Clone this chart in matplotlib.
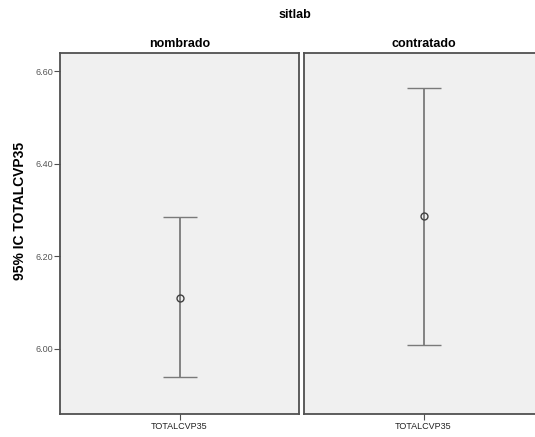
import matplotlib
matplotlib.use('Agg')
import matplotlib.pyplot as plt

plt.rcParams['font.family'] = ['Liberation Sans', 'DejaVu Sans']

# 95% confidence intervals of TOTALCVP35 by sitlab
groups = ['nombrado', 'contratado']
variable = 'TOTALCVP35'
means = [6.110, 6.287]
lower = [5.938, 6.009]
upper = [6.284, 6.563]
yticks = [6.00, 6.20, 6.40, 6.60]

fig = plt.figure(figsize=(5.35, 4.37), dpi=100)
fig.patch.set_facecolor('white')

left_px = [60, 304]
width_px = 239
W, H = 535, 437
axes = []
for i, g in enumerate(groups):
    ax = fig.add_axes([left_px[i] / W, 23 / H, width_px / W, 361 / H])
    ax.set_facecolor('#f0f0f0')
    for s in ax.spines.values():
        s.set_color('#505050')
        s.set_linewidth(1.3)
    ax.errorbar([0], [means[i]],
                yerr=[[means[i] - lower[i]], [upper[i] - means[i]]],
                fmt='o', mfc='none', mec='#404040', ms=5, mew=1.0,
                ecolor='#7a7a7a', elinewidth=1.3, capsize=12, capthick=1.3)
    ax.set_xlim(-1, 1)
    ax.set_ylim(5.859, 6.639)
    ax.set_xticks([0])
    ax.set_xticklabels([variable], fontsize=6.5, color='#222222')
    ax.tick_params(axis='x', length=4, color='#505050', pad=2)
    ax.set_title(g, fontsize=9, fontweight='bold', pad=4)
    if i == 0:
        ax.set_yticks(yticks)
        ax.set_yticklabels([f'{v:.2f}' for v in yticks], fontsize=6.5,
                           color='#555555')
        ax.tick_params(axis='y', length=4, color='#505050', pad=1)
        ax.set_ylabel('95% IC ' + variable, fontsize=10, fontweight='bold')
        ax.yaxis.set_label_coords(-0.138, 0.562)
    else:
        ax.set_yticks([])
    axes.append(ax)

fig.text(295 / W, 1 - 15 / H, 'sitlab', ha='center', va='center',
         fontsize=9, fontweight='bold')

fig.savefig('out.png', dpi=100)
